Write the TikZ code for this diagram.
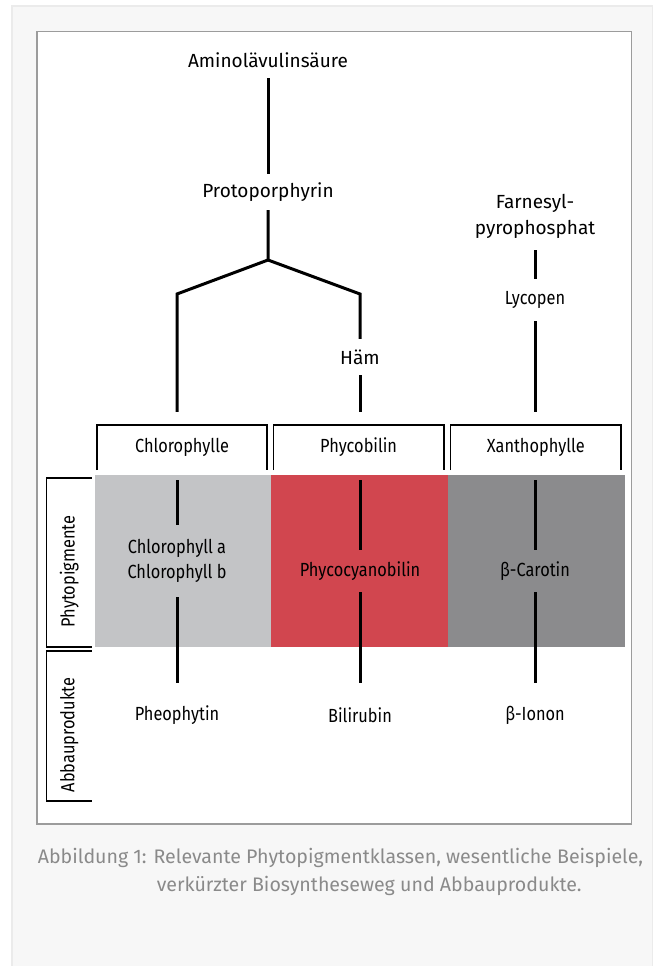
\documentclass[tikz,border=0pt]{standalone}
\usepackage{fontspec}
\setmainfont[FakeStretch=0.86]{Fira Sans}
\newfontfamily\widefont{Fira Sans}
\newfontfamily\capfont{Fira Sans}

\definecolor{chlgray}{HTML}{C3C4C6}
\definecolor{phyred}{HTML}{D1464F}
\definecolor{xangray}{HTML}{8B8B8D}
\definecolor{panel}{HTML}{F7F7F7}
\definecolor{panelline}{HTML}{EBEBEB}
\definecolor{framegray}{HTML}{9C9C9C}
\definecolor{capgray}{HTML}{8A8A8A}

\begin{document}
\begin{tikzpicture}[x=1pt, y=-1pt,
	lbl/.style={font=\fontsize{19}{25}\selectfont, inner sep=0pt, minimum height=36pt, align=center},
	toplbl/.style={lbl, font=\widefont\fontsize{19}{26}\selectfont},
	hbox/.style={lbl, minimum width=170pt, minimum height=45pt},
	bandbox/.style={minimum width=177pt, minimum height=172pt, inner sep=0pt},
	sidebox/.style={minimum width=45pt, inner sep=0pt},
	stem/.style={line width=3pt},
	frame/.style={line width=1.5pt}]
	\useasboundingbox (0,0) rectangle (655,966);
	\fill[panel, draw=panelline, line width=1.5pt] (12,6) rectangle (652.5,970);
	\draw[framegray, fill=white, line width=1.2pt] (37,31.7) rectangle (631.6,824);

	% biosynthesis
	\node[toplbl] (amino) at (268,60) {Aminolävulinsäure};
	\node[toplbl] (proto) at (268,192) {Protoporphyrin};
	\node[toplbl] (haem) at (360,357) {Häm};
	\node[toplbl, minimum height=68pt] (farn) at (535,216) {Farnesyl-\\pyrophosphat};
	\node[lbl, minimum height=42pt] (lyc) at (535,300) {Lycopen};
	\coordinate (fork) at (268,260);
	\coordinate (kl) at (177,294);
	\coordinate (kr) at (360,294);

	% classes
	\node[hbox] (hchl) at (182,447.5) {Chlorophylle};
	\node[hbox] (hphy) at (358.6,447.5) {Phycobilin};
	\node[hbox] (hxan) at (535.8,447.5) {Xanthophylle};
	\foreach \n in {hchl,hphy,hxan}
		\draw[frame] (\n.south west) -- (\n.north west) -- (\n.north east) -- (\n.south east);

	% pigments
	\node[bandbox, fill=chlgray] (bchl) at (183,561) {};
	\node[bandbox, fill=phyred] (bphy) at (359.5,561) {};
	\node[bandbox, fill=xangray] (bxan) at (536,561) {};
	\node[lbl, minimum height=72pt] (chlab) at (177,561) {Chlorophyll a\\Chlorophyll b};
	\node[lbl, minimum height=42pt] (pcb) at (360,571) {Phycocyanobilin};
	\node[lbl, minimum height=42pt] (car) at (535,571) {β-Carotin};

	% products
	\node[lbl, minimum height=64pt] (pheo) at (177,715) {Pheophytin};
	\node[lbl, minimum height=64pt] (bili) at (360,715) {Bilirubin};
	\node[lbl, minimum height=64pt] (ionon) at (535,715) {β-Ionon};

	% side labels
	\node[sidebox, minimum height=169pt, label={[lbl, yshift=-9pt]center:\rotatebox{90}{Phytopigmente}}] (sphy) at (69.2,562.5) {};
	\node[sidebox, minimum height=150pt, label={[lbl, yshift=-9pt]center:\rotatebox{90}{Abbauprodukte}}] (sabb) at (69.2,726) {};
	\foreach \n in {sphy,sabb}
		\draw[frame] (\n.north east) -- (\n.north west) -- (\n.south west) -- (\n.south east);

	% connectors
	\draw[stem] (amino) -- (proto);
	\draw[stem, shorten >=13pt] (proto) -- (fork) -- (kl) -- (kl |- hchl.north);
	\draw[stem] (fork) -- (kr) -- (haem);
	\draw[stem, shorten >=13pt] (haem) -- (haem |- hphy.north);
	\draw[stem] (farn) -- (lyc);
	\draw[stem, shorten >=13pt] (lyc) -- (lyc |- hxan.north);
	\foreach \p/\h/\q in {chlab/hchl/pheo, pcb/hphy/bili, car/hxan/ionon} {
		\draw[stem, shorten <=10pt] (\p |- \h.south) -- (\p);
		\draw[stem] (\p) -- (\q);
	}

	% caption
	\node[font=\capfont\fontsize{19.6}{28}\selectfont, text=capgray, align=left, anchor=north west, inner sep=0pt] (cap) at (37.6,848)
		{Abbildung 1: Relevante Phytopigmentklassen, wesentliche Beispiele,\\\hspace*{119pt}verkürzter Biosyntheseweg und Abbauprodukte.};
\end{tikzpicture}
\end{document}
